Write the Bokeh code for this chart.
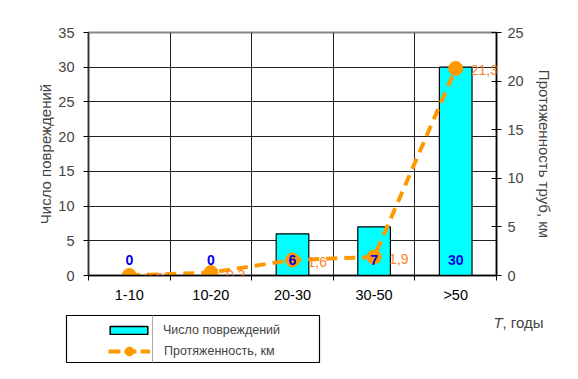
from bokeh.plotting import figure
from bokeh.layouts import column
from bokeh.models import (Range1d, LinearAxis, FixedTicker, SingleIntervalTicker, ColumnDataSource,
                          LabelSet, Label, Legend, LegendItem, Grid)
from bokeh.core.properties import value
from bokeh.embed import file_html
from bokeh.resources import INLINE

categories = ["1-10", "10-20", "20-30", "30-50", ">50"]
damages = [0, 0, 6, 7, 30]
length_km = [0.0, 0.3, 1.6, 1.9, 21.3]
series_names = ["Число повреждений", "Протяженность, км"]
x_title_var = "T"
x_title_unit = ", годы"

FONT = "Liberation Sans"
BAR_FILL = "#00FFFF"
LINE_COL = "#FF9900"
xpos = [i + 0.5 for i in range(len(categories))]
src = ColumnDataSource(dict(
    x=xpos, dmg=damages, km=length_km,
    dmg_label=[str(v) for v in damages],
    km_label=[f"{v:.1f}".replace(".", ",") for v in length_km],
))

p = figure(width=570, height=308, output_backend="svg", toolbar_location=None,
           x_range=Range1d(0, len(categories)), y_range=Range1d(0, 35),
           min_border_left=88, min_border_right=74, min_border_top=32, min_border_bottom=33,
           x_axis_type=None, y_axis_type=None)
p.frame_align = False
p.extra_y_ranges = {"km": Range1d(0, 25)}
p.outline_line_color = "#888888"
p.outline_line_width = 2

# bottom axis
xax = LinearAxis(ticker=FixedTicker(ticks=xpos, minor_ticks=list(range(len(categories) + 1))),
                 major_label_overrides={x: c for x, c in zip(xpos, categories)})
xax.major_tick_out = 0
xax.major_tick_in = 0
xax.minor_tick_out = 5
xax.minor_tick_in = 0
xax.major_label_standoff = 6
xax.major_label_text_font = FONT
xax.major_label_text_font_size = "14.5px"
xax.major_label_text_color = "black"
xax.axis_line_color = "black"
xax.axis_line_width = 1.5
xax.minor_tick_line_color = "black"
p.add_layout(xax, "below")

# left axis
yax = LinearAxis(ticker=SingleIntervalTicker(interval=5), axis_label="Число повреждений")
yax.major_tick_out = 5
yax.major_tick_in = 0
yax.minor_tick_line_color = None
yax.major_label_standoff = 9
yax.axis_label_standoff = 1
yax.major_label_text_font = FONT
yax.major_label_text_font_size = "14.5px"
yax.axis_label_text_font = FONT
yax.axis_label_text_font_size = "15px"
yax.axis_label_text_font_style = "normal"
yax.axis_line_color = "#333333"
yax.axis_line_width = 1.5
p.add_layout(yax, "left")

# right axis
rax = LinearAxis(y_range_name="km", ticker=SingleIntervalTicker(interval=5),
                 axis_label="Протяженность труб, км")
rax.major_tick_out = 5
rax.major_tick_in = 5
rax.minor_tick_line_color = None
rax.major_label_standoff = 6
rax.axis_label_standoff = 9
rax.major_label_text_font = FONT
rax.major_label_text_font_size = "14.5px"
rax.axis_label_text_font = FONT
rax.axis_label_text_font_size = "15px"
rax.axis_label_text_font_style = "normal"
rax.axis_line_color = "black"
rax.axis_line_width = 1.5
p.add_layout(rax, "right")

# grids
p.add_layout(Grid(dimension=0, ticker=FixedTicker(ticks=list(range(1, len(categories)))),
                  grid_line_color="#222222", grid_line_width=1))
p.add_layout(Grid(dimension=1, ticker=SingleIntervalTicker(interval=5),
                  grid_line_color="#222222", grid_line_width=1))

bars = p.vbar(x="x", top="dmg", width=0.4, source=src, fill_color=BAR_FILL,
              line_color="black", line_width=1.2)
line = p.line(x="x", y="km", source=src, y_range_name="km", line_color=LINE_COL,
              line_width=4, line_dash="11 7")
dots = p.scatter(x="x", y="km", source=src, y_range_name="km", size=14,
                 fill_color=LINE_COL, line_color=LINE_COL)

p.add_layout(LabelSet(x="x", y="km", y_range_name="km", text="km_label", source=src,
                      x_offset=15, y_offset=-2, text_align="left", text_baseline="middle",
                      text_font=value(FONT), text_font_size=value("14px"),
                      text_color="#FF7F27"))
p.add_layout(LabelSet(x="x", y=0, text="dmg_label", source=src, y_offset=16,
                      text_align="center", text_baseline="middle", text_font=value(FONT),
                      text_font_size=value("14px"), text_font_style="bold",
                      text_color="#0000E6"))

# ---- lower strip: legend box and x-axis title ----
p2 = figure(width=570, height=63, output_backend="svg", toolbar_location=None,
            x_range=Range1d(0, 570), y_range=Range1d(start=63, end=0),
            min_border=0, x_axis_type=None, y_axis_type=None)
p2.frame_align = False
p2.grid.visible = False
p2.outline_line_color = None

p2.quad(left=[66], right=[319], top=[7], bottom=[54], fill_color="white",
        line_color="black", line_width=1.2)
p2.segment(x0=[152], y0=[7], x1=[152], y1=[54], line_color="#AAAAAA", line_width=1)

nan = float("nan")
lb = p2.vbar(x=[nan], top=[nan], width=1, fill_color=BAR_FILL, line_color="black",
             line_width=1.5)
ll = p2.line(x=[nan, nan], y=[nan, nan], line_color=LINE_COL, line_width=4,
             line_dash="12 4")
ld = p2.scatter(x=[nan], y=[nan], size=9, fill_color=LINE_COL, line_color=LINE_COL)

leg1 = Legend(items=[LegendItem(label=series_names[0], renderers=[lb])],
              location=(105, 34), glyph_width=47, glyph_height=10, label_standoff=11,
              padding=0, margin=0, border_line_alpha=0, background_fill_alpha=0,
              label_text_font=FONT, label_text_font_size="12.5px")
leg2 = Legend(items=[LegendItem(label=series_names[1], renderers=[ll, ld])],
              location=(108, 9), glyph_width=42, glyph_height=22, label_standoff=14,
              padding=0, margin=0, border_line_alpha=0, background_fill_alpha=0,
              label_text_font=FONT, label_text_font_size="12.5px")
p2.add_layout(leg1, "center")
p2.add_layout(leg2, "center")

p2.add_layout(Label(x=493, y=14, text=x_title_var, text_font=FONT, text_font_size="15px",
                    text_font_style="italic", text_baseline="alphabetic"))
p2.add_layout(Label(x=502, y=14, text=x_title_unit, text_font=FONT, text_font_size="15px",
                    text_baseline="alphabetic"))

layout = column(p, p2, spacing=0)
open("out.html", "w").write(file_html(layout, INLINE))
